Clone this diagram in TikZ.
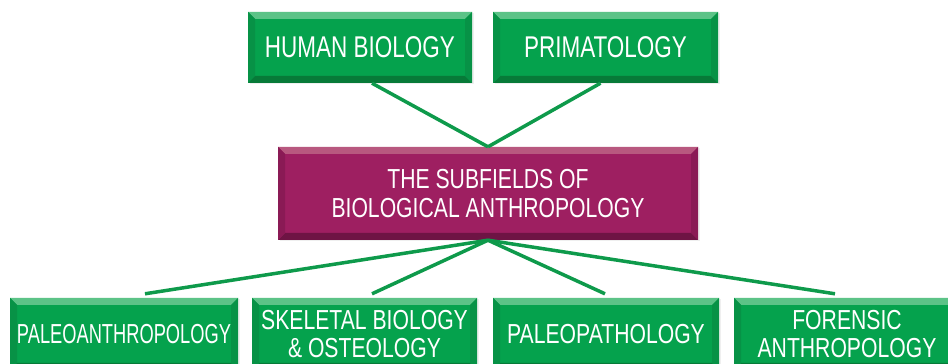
\documentclass[tikz,border=0pt]{standalone}
\usepackage{fontspec}
\newfontfamily\boxfontT[FakeStretch=0.75]{Liberation Sans}
\newfontfamily\boxfontW[FakeStretch=0.77]{Liberation Sans}
\newfontfamily\boxfontN[FakeStretch=0.665]{Liberation Sans}
\usetikzlibrary{shadows}
\definecolor{gmain}{HTML}{05A24D}
\definecolor{glight}{HTML}{5CC387}
\definecolor{gdark}{HTML}{077A38}
\definecolor{gside}{HTML}{079246}
\definecolor{mmain}{HTML}{9E1F61}
\definecolor{mlight}{HTML}{B8587F}
\definecolor{mdark}{HTML}{6E1444}
\definecolor{mside}{HTML}{8A1A55}
\definecolor{linkgreen}{HTML}{0E9A4B}
\tikzset{
  bevelbox/.style n args={4}{draw=none, fill=#1, inner sep=0pt, text=white,
    align=center,
    drop shadow={opacity=0.12, shadow xshift=1.5pt, shadow yshift=-1.5pt},
    path picture={
      \coordinate (sw) at (path picture bounding box.south west);
      \coordinate (ne) at (path picture bounding box.north east);
      \coordinate (nw) at (sw|-ne);
      \coordinate (se) at (ne|-sw);
      \fill[#2] (nw) -- (ne) -- ([shift={(-7,-7)}]ne) -- ([shift={(7,-7)}]nw) -- cycle;
      \fill[#3] (sw) -- (se) -- ([shift={(-7,7)}]se) -- ([shift={(7,7)}]sw) -- cycle;
      \fill[#4] (sw) -- (nw) -- ([shift={(7,-7)}]nw) -- ([shift={(7,7)}]sw) -- cycle;
      \fill[#4] (se) -- (ne) -- ([shift={(-7,-7)}]ne) -- ([shift={(-7,7)}]se) -- cycle;
    }},
  greenbox/.style={bevelbox={gmain}{glight}{gdark}{gside}},
  magbox/.style={bevelbox={mmain}{mlight}{mdark}{mside}},
  link/.style={draw=linkgreen, line width=3.5pt},
  topfont/.style={font=\boxfontT\fontsize{30}{32}\selectfont},
  midfont/.style={font=\boxfontW\fontsize{27.5}{29.5}\selectfont},
  botfont/.style={font=\boxfontW\fontsize{27.5}{28.5}\selectfont},
  narrowfont/.style={font=\boxfontN\fontsize{27.5}{28.5}\selectfont},
}
\begin{document}
\begin{tikzpicture}[x=1pt,y=1pt]
\useasboundingbox (0,0) rectangle (948,364);
\fill[white] (0,0) rectangle (948,364);
\begin{scope}
\clip (0,0) rectangle (948,364);
% nodes
\node[greenbox, topfont, minimum width=224, minimum height=71] (hb) at (360,316.5) {HUMAN BIOLOGY};
\node[greenbox, topfont, minimum width=225, minimum height=71] (pr) at (605.5,316.5) {PRIMATOLOGY};
\node[magbox, midfont, minimum width=420, minimum height=93] (sub) at (488,170.5) {THE SUBFIELDS OF\\BIOLOGICAL ANTHROPOLOGY};
\node[greenbox, narrowfont, minimum width=228, minimum height=72] (pa) at (124,30) {PALEOANTHROPOLOGY};
\node[greenbox, botfont, minimum width=225, minimum height=72] (sk) at (364.5,30) {SKELETAL BIOLOGY\\\&\ OSTEOLOGY};
\node[greenbox, botfont, minimum width=226, minimum height=72] (pp) at (606,30) {PALEOPATHOLOGY};
\node[greenbox, botfont, minimum width=226, minimum height=72] (fo) at (847,30) {FORENSIC\\ANTHROPOLOGY};
% connectors
\draw[link] ([xshift=12]hb.south) -- (sub.north);
\draw[link] ([xshift=-5]pr.south) -- (sub.north);
\draw[link] (sub.south) -- ([xshift=21,yshift=4]pa.north);
\draw[link] (sub.south) -- ([xshift=7.5,yshift=4]sk.north);
\draw[link] (sub.south) -- ([xshift=-1,yshift=4]pp.north);
\draw[link] (sub.south) -- ([xshift=-12,yshift=4]fo.north);
\end{scope}
\end{tikzpicture}
\end{document}
